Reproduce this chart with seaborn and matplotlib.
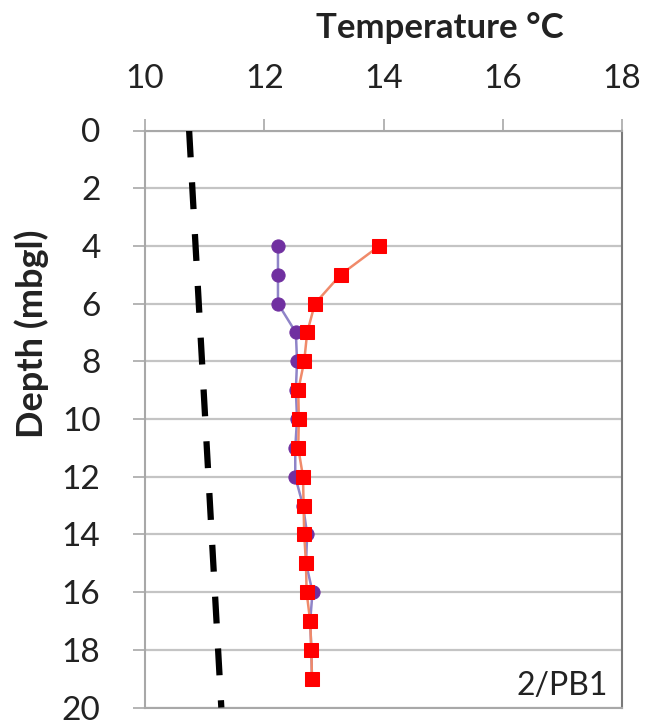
import matplotlib
matplotlib.use("Agg")
import matplotlib.pyplot as plt
import seaborn as sns
import numpy as np

# Data
depth_purple = [4, 5, 6, 7, 8, 9, 10, 11, 12, 13, 14, 15, 16, 17, 18, 19]
temp_purple = [12.23, 12.23, 12.23, 12.53, 12.55, 12.53, 12.55, 12.52, 12.52, 12.65, 12.72, 12.70, 12.81, 12.77, 12.79, 12.80]

depth_red = [4, 5, 6, 7, 8, 9, 10, 11, 12, 13, 14, 15, 16, 17, 18, 19]
temp_red = [13.93, 13.28, 12.85, 12.72, 12.67, 12.57, 12.58, 12.57, 12.65, 12.66, 12.67, 12.70, 12.71, 12.77, 12.79, 12.80]

depth_ref = [0, 20]
temp_ref = [10.74, 11.28]

x_ticks = [10, 12, 14, 16, 18]
y_ticks = [0, 2, 4, 6, 8, 10, 12, 14, 16, 18, 20]

sns.set_theme(style="white")
plt.rcParams['font.family'] = ['Lato', 'DejaVu Sans']

fig = plt.figure(figsize=(6.48, 7.24), dpi=100)
ax = fig.add_axes([145/648, 1-707.5/724, 477/648, 577/724])

sns.lineplot(x=temp_purple, y=depth_purple, orient="y", estimator=None, ax=ax,
             color="#8f84c8", lw=1.8, marker="o", markersize=9.5,
             markerfacecolor="#7030a0", markeredgecolor="#7030a0", zorder=3)
sns.lineplot(x=temp_red, y=depth_red, orient="y", estimator=None, ax=ax,
             color="#f08a6a", lw=1.8, marker="s", markersize=10.5,
             markerfacecolor="#ff0000", markeredgecolor="#ff0000", zorder=4)
sns.lineplot(x=temp_ref, y=depth_ref, orient="y", estimator=None, ax=ax,
             color="black", lw=4.5, linestyle=(0, (4.3, 4.0)), zorder=5)

ax.set_xlim(10, 18)
ax.set_ylim(20, 0)
ax.set_xticks(x_ticks)
ax.set_yticks(y_ticks)
ax.xaxis.tick_top()
ax.xaxis.set_label_position("top")

ax.grid(axis="y", color="#c4c4c4", lw=1.6)
ax.grid(axis="x", visible=False)
for s in ["left", "bottom", "top"]:
    ax.spines[s].set_color("#a8a8a8")
    ax.spines[s].set_linewidth(1.5)
ax.spines["right"].set_color("#7a7a7a")
ax.spines["right"].set_linewidth(1.5)

ax.tick_params(axis="both", which="major", labelsize=24, length=9, width=1.2,
               color="#a8a8a8", direction="out", labelcolor="#222222")
ax.tick_params(axis="x", top=True, bottom=False, pad=17)
ax.tick_params(axis="y", left=True, pad=23)

ax.set_xlabel("Temperature °C", fontsize=25, fontweight="bold", color="#222222")
ax.xaxis.set_label_coords(0.618, 1.177)
ax.xaxis.label.set_va("center")
ax.set_ylabel("Depth (mbgl)", fontsize=26, fontweight="bold", color="#222222")
ax.yaxis.set_label_coords(-0.238, 0.648)
ax.yaxis.label.set_va("center")

ax.text(0.971, 0.022, "2/PB1", transform=ax.transAxes, ha="right", va="baseline",
        fontsize=23, color="#222222")

fig.savefig("out.png", dpi=100)
